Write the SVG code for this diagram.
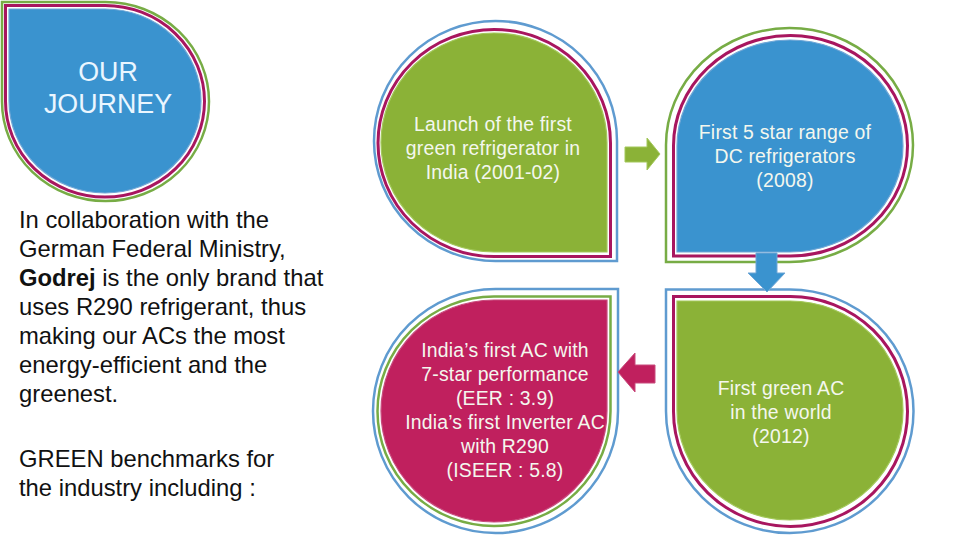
<svg xmlns="http://www.w3.org/2000/svg" width="960" height="540" viewBox="0 0 960 540">
<style>
  .bg { fill: #ffffff; }
  .ln { fill: none; }
  .og { stroke: #77AC45; stroke-width: 2.5; }
  .ob { stroke: #5F9BD0; stroke-width: 2.5; }
  .om { stroke: #A8165F; stroke-width: 3; }
  .fb { fill: #3A93CF; stroke: #6FA6D6; stroke-width: 1.2; }
  .fg { fill: #8BB237; stroke: #A3C85A; stroke-width: 1.2; }
  .fm { fill: #C0205E; stroke: #C84A7C; stroke-width: 1.2; }
  .t { font-family: "Liberation Sans", Arial, sans-serif; }
  .pt { font-size: 19.4px; letter-spacing: 0.2px; fill: #F4F7EE; text-anchor: middle; }
  .lt { font-size: 23.8px; fill: #111111; }
</style>
<rect class="bg" x="0" y="0" width="960" height="540"/>

<g id="node-our-journey">
  <path class="ln og" d="M2,2 H105.5 A103.5,99.5 0 0 1 209,101.5 A103.5,99.5 0 0 1 105.5,201 A103.5,99.5 0 0 1 2,101.5 Z"/>
  <path class="ln om" d="M5.5,5.5 H105 A99.5,95.75 0 0 1 204.5,101.25 A99.5,95.75 0 0 1 105,197 A99.5,95.75 0 0 1 5.5,101.25 Z"/>
  <path class="fb" d="M9,9 H105 A96,92 0 0 1 201,101 A96,92 0 0 1 105,193 A96,92 0 0 1 9,101 Z"/>
  <text class="t" x="108" y="81" font-size="26.8" fill="#EAF6FF" text-anchor="middle">OUR</text>
  <text class="t" x="108" y="113" font-size="26.8" fill="#EAF6FF" text-anchor="middle">JOURNEY</text>
</g>

<g id="intro-text" class="t lt">
  <text x="19" y="228">In collaboration with the</text>
  <text x="19" y="257">German Federal Ministry,</text>
  <text x="19" y="286"><tspan font-weight="bold">Godrej</tspan> is the only brand that</text>
  <text x="19" y="315">uses R290 refrigerant, thus</text>
  <text x="19" y="344">making our ACs the most</text>
  <text x="19" y="373">energy-efficient and the</text>
  <text x="19" y="402">greenest.</text>
  <text x="19" y="467">GREEN benchmarks for</text>
  <text x="19" y="496">the industry including :</text>
</g>

<g id="node-2001">
  <path class="ln ob" d="M617,261 H495.5 A121.5,120 0 0 1 374,141 A121.5,120 0 0 1 495.5,21 A121.5,120 0 0 1 617,141 Z"/>
  <path class="ln om" d="M610.5,256.5 H494.25 A116.25,113.5 0 0 1 378,143 A116.25,113.5 0 0 1 494.25,29.5 A116.25,113.5 0 0 1 610.5,143 Z"/>
  <path class="fg" d="M607,252 H494 A113,109.5 0 0 1 381,142.5 A113,109.5 0 0 1 494,33 A113,109.5 0 0 1 607,142.5 Z"/>
  <text class="t pt" x="493" y="131">Launch of the first</text>
  <text class="t pt" x="493" y="155">green refrigerator in</text>
  <text class="t pt" x="493" y="179">India (2001-02)</text>
</g>

<g id="node-2008">
  <path class="ln og" d="M666,262 V145 A123.5,117 0 0 1 789.5,28 A123.5,117 0 0 1 913,145 A123.5,117 0 0 1 789.5,262 Z"/>
  <path class="ln om" d="M673.5,256 V145.75 A117,110.25 0 0 1 790.5,35.5 A117,110.25 0 0 1 907.5,145.75 A117,110.25 0 0 1 790.5,256 Z"/>
  <path class="fb" d="M677,252 V146 A113,106 0 0 1 790,40 A113,106 0 0 1 903,146 A113,106 0 0 1 790,252 Z"/>
  <text class="t pt" x="785" y="139" fill="#EAF6FF">First 5 star range of</text>
  <text class="t pt" x="785" y="163" fill="#EAF6FF">DC refrigerators</text>
  <text class="t pt" x="785" y="187" fill="#EAF6FF">(2008)</text>
</g>

<g id="node-2012">
  <path class="ln ob" d="M666,289.5 H789.75 A123.75,121.75 0 0 1 913.5,411.25 A123.75,121.75 0 0 1 789.75,533 A123.75,121.75 0 0 1 666,411.25 Z"/>
  <path class="ln om" d="M673.5,296.5 H790.5 A117,115 0 0 1 907.5,411.5 A117,115 0 0 1 790.5,526.5 A117,115 0 0 1 673.5,411.5 Z"/>
  <path class="fg" d="M677,301 H790 A113,109.5 0 0 1 903,410.5 A113,109.5 0 0 1 790,520 A113,109.5 0 0 1 677,410.5 Z"/>
  <text class="t pt" x="781" y="395">First green AC</text>
  <text class="t pt" x="781" y="419">in the world</text>
  <text class="t pt" x="781" y="443">(2012)</text>
</g>

<g id="node-inverter">
  <path class="ln ob" d="M618,289 V411 A122.5,122 0 0 1 495.5,533 A122.5,122 0 0 1 373,411 A122.5,122 0 0 1 495.5,289 Z"/>
  <path class="ln og" d="M610.5,296.5 V411.25 A116.5,114.75 0 0 1 494,526 A116.5,114.75 0 0 1 377.5,411.25 A116.5,114.75 0 0 1 494,296.5 Z"/>
  <path class="fm" d="M607,300 V411 A113,111 0 0 1 494,522 A113,111 0 0 1 381,411 A113,111 0 0 1 494,300 Z"/>
  <text class="t pt" x="505" y="357">India’s first AC with</text>
  <text class="t pt" x="505" y="381">7-star performance</text>
  <text class="t pt" x="505" y="405">(EER : 3.9)</text>
  <text class="t pt" x="505" y="429">India’s first Inverter AC</text>
  <text class="t pt" x="505" y="453">with R290</text>
  <text class="t pt" x="505" y="477">(ISEER : 5.8)</text>
</g>

<g id="connectors">
  <polygon points="625,147 647,147 647,138 660,154 647,170 647,162 625,162" fill="#8BB237" stroke="#A3C85A" stroke-width="1"/>
  <polygon points="756,253 777,253 777,273 785,273 767,292 748,273 756,273" fill="#3A93CF" stroke="#6FA6D6" stroke-width="1"/>
  <polygon points="618,372 635,353 635,365 655,365 655,383 635,383 635,392" fill="#C0205E" stroke="#C84A7C" stroke-width="1"/>
</g>
</svg>
